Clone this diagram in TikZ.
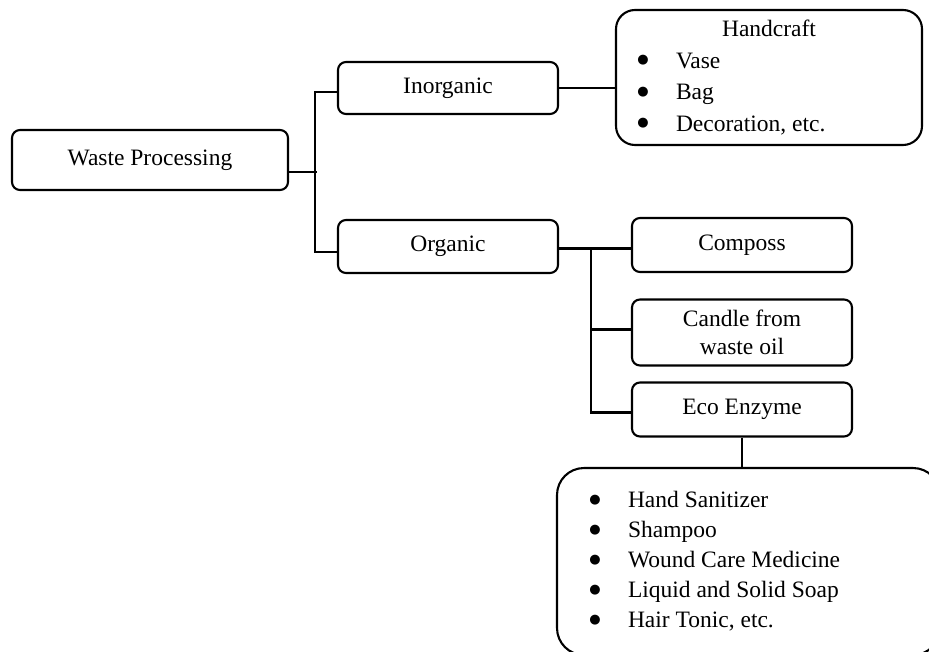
\documentclass[tikz,border=0pt]{standalone}
\usepackage{fontspec}
\setmainfont{Liberation Serif}
\newfontfamily\bulfont{DejaVu Sans}
\newcommand\bul{\makebox[16pt][c]{\bulfont\fontsize{13}{0}\selectfont\raisebox{4.5pt}{●}}\hspace{25pt}}
\begin{document}
\begin{tikzpicture}[x=1pt,y=-1pt, line width=2.1pt,
  box/.style={draw, rounded corners=8pt, align=center, inner sep=0pt,
    font=\fontsize{23.5}{28}\selectfont}]
\path[use as bounding box, clip] (0,0) rectangle (929,651);

\node[box, minimum width=276pt, minimum height=60pt] (wp) at (150,160) {Waste Processing};
\node[box, minimum width=220pt, minimum height=52pt] (inorg) at (448,88) {Inorganic};
\node[box, minimum width=220pt, minimum height=53pt] (org) at (448,246.5) {Organic};
\node[box, rounded corners=19pt, minimum width=306pt, minimum height=135pt,
  text width=268pt, inner xsep=19pt, align=flush left,
  font=\fontsize{23.5}{31.5}\selectfont] (hand) at (769,77.5)
  {\centering Handcraft\par\raggedright\bul Vase\\\bul Bag\\\bul Decoration, etc.};
\node[box, minimum width=220pt, minimum height=54pt] (comp) at (742,245) {Composs};
\node[box, minimum width=220pt, minimum height=66pt] (candle) at (742,332.5) {Candle from\\waste oil};
\node[box, minimum width=220pt, minimum height=54pt] (eco) at (742,409.5) {Eco Enzyme};
\node[box, rounded corners=27pt, minimum height=187pt, text width=323pt,
  inner xsep=30pt, align=flush left, font=\fontsize{23.5}{30}\selectfont] (uses) at (748.5,561.5)
  {\bul Hand Sanitizer\\\bul Shampoo\\\bul Wound Care Medicine\\\bul Liquid and Solid Soap\\\bul Hair Tonic, etc.\par\vspace{9pt}};

\draw ([yshift=-12pt]wp.east) -- ++(28,0);
\draw ([yshift=-4pt]inorg.west) -- ++(-22,0) |- ([yshift=-5.5pt]org.west);
\draw (inorg.east) -- (inorg.east -| hand.west);
\draw ([yshift=-2pt]org.east) -- ([yshift=-2pt]org.east -| comp.west);
\coordinate (b2) at (591,248.5);
\draw (b2) |- ([yshift=-3pt]eco.west);
\draw ([yshift=3pt]candle.west -| b2) -- ([yshift=3pt]candle.west);
\draw (eco.south) -- (eco.south |- uses.north);
\end{tikzpicture}
\end{document}
